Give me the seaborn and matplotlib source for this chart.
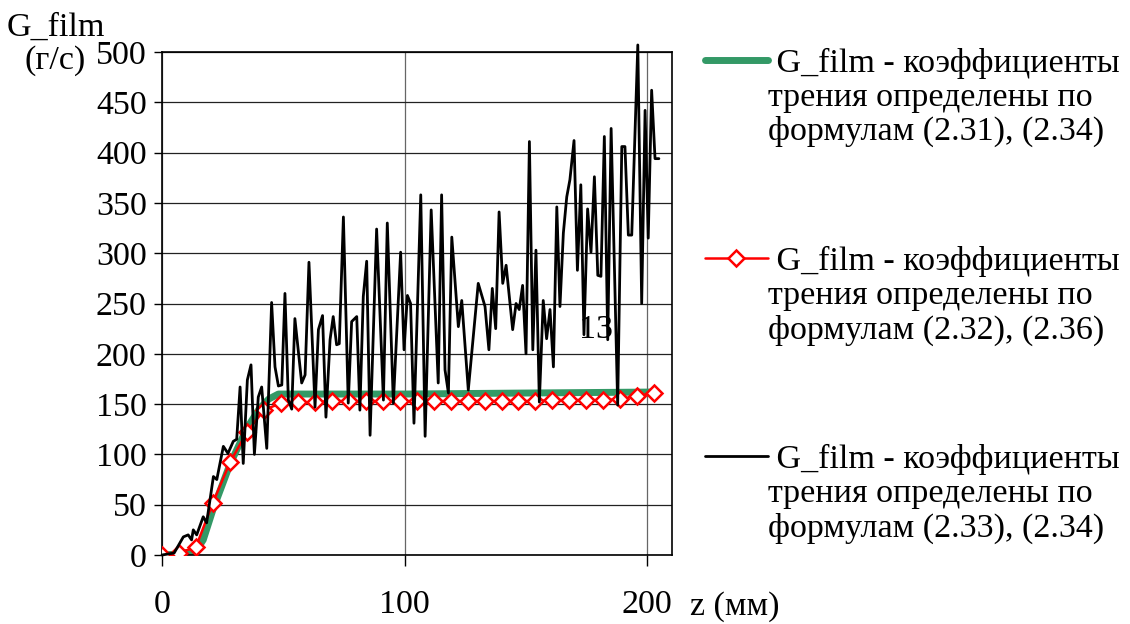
import matplotlib
matplotlib.use("Agg")
import matplotlib.pyplot as plt
import seaborn as sns

# G_film vs z, friction coefficients per (2.31), (2.34)
z_f1 = [0, 7, 14, 17, 21, 28, 35, 40, 44, 48, 60, 100, 150, 203]
g_f1 = [0, 1, 4, 15, 45, 90, 126, 145, 155, 160, 160, 160, 161, 162]

# G_film vs z, friction coefficients per (2.32), (2.36)
z_f2 = [0, 7, 14, 21, 28, 35, 42, 49, 56, 63, 70, 77, 84, 91, 98,
        105, 112, 119, 126, 133, 140, 147, 154, 161, 168, 175, 182, 189, 196, 203]
g_f2 = [0, 2, 8, 52, 92, 122, 144, 151, 152, 152, 153, 153, 153, 153, 153,
        153, 153, 153, 153, 153, 153, 153, 153, 154, 154, 154, 154, 155, 158, 161]

# G_film vs z, friction coefficients per (2.33), (2.34)
z_f3 = [0, 5, 8.8, 10.8, 12.2, 12.9, 14.3, 17.0, 18.4, 21.2,
        22.6, 25.3, 27.2, 29.4, 30.8, 32.2, 33.5, 35.2, 36.7, 38.1,
        39.7, 41.1, 43.2, 45.2, 46.6, 48.0, 49.4, 50.7, 52.1, 53.5,
        54.8, 57.6, 59.0, 60.6, 63.1, 64.5, 66.2, 67.6, 69.3, 70.6,
        72.0, 73.1, 74.8, 76.8, 78.2, 80.3, 81.6, 83.0, 84.4, 85.8,
        88.5, 91.3, 92.9, 95.4, 98.4, 99.8, 101.2, 102.5, 103.9, 106.7,
        108.5, 111.0, 113.9, 115.3, 116.7, 118.1, 119.5, 122.2, 123.6, 126.3,
        130.4, 133.2, 134.8, 136.2, 137.6, 139.0, 140.5, 141.9, 144.6, 146.0,
        147.3, 148.7, 150.1, 151.5, 152.9, 154.2, 155.6, 157.2, 158.6, 160.0,
        161.4, 162.8, 164.1, 165.5, 166.9, 168.2, 169.9, 171.3, 172.7, 174.0,
        175.5, 176.9, 178.3, 179.7, 181.0, 182.4, 183.8, 185.2, 187.9, 189.6,
        190.9, 192.3, 193.7, 196.2, 197.8, 199.2, 200.5, 201.9, 203.3, 204.9]
g_f3 = [0, 2, 18, 20, 15, 25, 20, 38, 32, 78,
        75, 108, 101, 113, 115, 167, 91, 174, 189, 100,
        157, 167, 106, 251, 187, 168, 169, 260, 154, 145,
        235, 171, 179, 291, 147, 224, 238, 137, 214, 237,
        209, 210, 336, 151, 232, 237, 144, 257, 292, 119,
        324, 154, 330, 151, 301, 204, 258, 250, 131, 358,
        118, 343, 171, 358, 184, 161, 316, 227, 253, 164,
        270, 247, 204, 265, 225, 341, 270, 288, 224, 250,
        244, 268, 200, 411, 204, 303, 152, 253, 215, 244,
        187, 346, 247, 320, 356, 373, 412, 283, 368, 219,
        344, 301, 376, 278, 277, 416, 214, 424, 149, 406,
        406, 318, 318, 507, 250, 442, 315, 462, 394, 394]

labels = [
    " G_film - коэффициенты\nтрения определены по\nформулам (2.31), (2.34)",
    " G_film - коэффициенты\nтрения определены по\nформулам (2.32), (2.36)",
    " G_film - коэффициенты\nтрения определены по\nформулам (2.33), (2.34)",
]
x_ticks = [0, 100, 200]
y_ticks = [0, 50, 100, 150, 200, 250, 300, 350, 400, 450, 500]

FS = 24.5

sns.set_theme(style="white")
plt.rcParams["font.family"] = ["Liberation Serif", "DejaVu Serif"]
plt.rcParams["font.size"] = FS
plt.rcParams["text.color"] = "black"
plt.rcParams["axes.labelcolor"] = "black"
plt.rcParams["xtick.color"] = "black"
plt.rcParams["ytick.color"] = "black"

fig = plt.figure(figsize=(11.3, 6.24), dpi=100)
ax = fig.add_axes([162 / 1130, 69 / 624, 510 / 1130, 503 / 624])

sns.lineplot(x=z_f1, y=g_f1, ax=ax, color="#339966", linewidth=5,
             sort=False, estimator=None, label=labels[0], zorder=2)
sns.lineplot(x=z_f2, y=g_f2, ax=ax, color="#ff0000", linewidth=1.8,
             marker="D", markersize=8, markerfacecolor="white",
             markeredgecolor="#ff0000", markeredgewidth=1.8,
             sort=False, estimator=None, label=labels[1], zorder=3)
sns.lineplot(x=z_f3, y=g_f3, ax=ax, color="black", linewidth=2.0,
             sort=False, estimator=None, label=labels[2], zorder=4)
ax.lines[-1].set_clip_on(False)

ax.text(179, 224, "13", ha="center", va="center", fontsize=FS, color="black",
        zorder=5)

ax.set_xlim(0, 210.3)
ax.set_ylim(0, 500)
ax.set_xticks(x_ticks)
ax.set_yticks(y_ticks)
ax.set_xticklabels([str(v) for v in x_ticks])
ax.set_yticklabels([str(v) for v in y_ticks])
ax.tick_params(axis="x", direction="out", length=8, width=1, color="black",
               pad=17, labelsize=FS, labelcolor="black", bottom=True)
ax.tick_params(axis="y", direction="out", length=6, width=1, color="black",
               pad=5, labelsize=FS, labelcolor="black", left=True)

ax.grid(axis="y", color="#222222", linewidth=0.9)
ax.grid(axis="x", color="#666666", linewidth=0.9)
ax.set_axisbelow(True)
for s in ax.spines.values():
    s.set_visible(True)
    s.set_color("black")
    s.set_linewidth(1.2)

ax.set_xlabel("z (мм)", fontsize=FS, color="black")
ax.xaxis.set_label_coords(1.1235, -0.103)
ax.xaxis.label.set_va("center")
ax.set_ylabel("G_film\n(г/с)", fontsize=FS, rotation=0, ha="center", va="center",
              linespacing=1.1, color="black")
ax.yaxis.set_label_coords(-0.209, 1.015)

handles, labs = ax.get_legend_handles_labels()
leg = ax.legend(handles, labs, loc="upper left",
                bbox_to_anchor=(705 / 1130, 576 / 624),
                bbox_transform=fig.transFigure, frameon=False, fontsize=FS,
                handlelength=1.85, handletextpad=0.0, labelspacing=2.9,
                borderpad=0, borderaxespad=0, labelcolor="black")
for t in leg.get_texts():
    t.set_linespacing(1.14)
# put each legend key beside the first line of its label
for col in leg._legend_handle_box.get_children():
    for item in col.get_children():
        item.align = "top"

fig.savefig("out.png", dpi=100)
